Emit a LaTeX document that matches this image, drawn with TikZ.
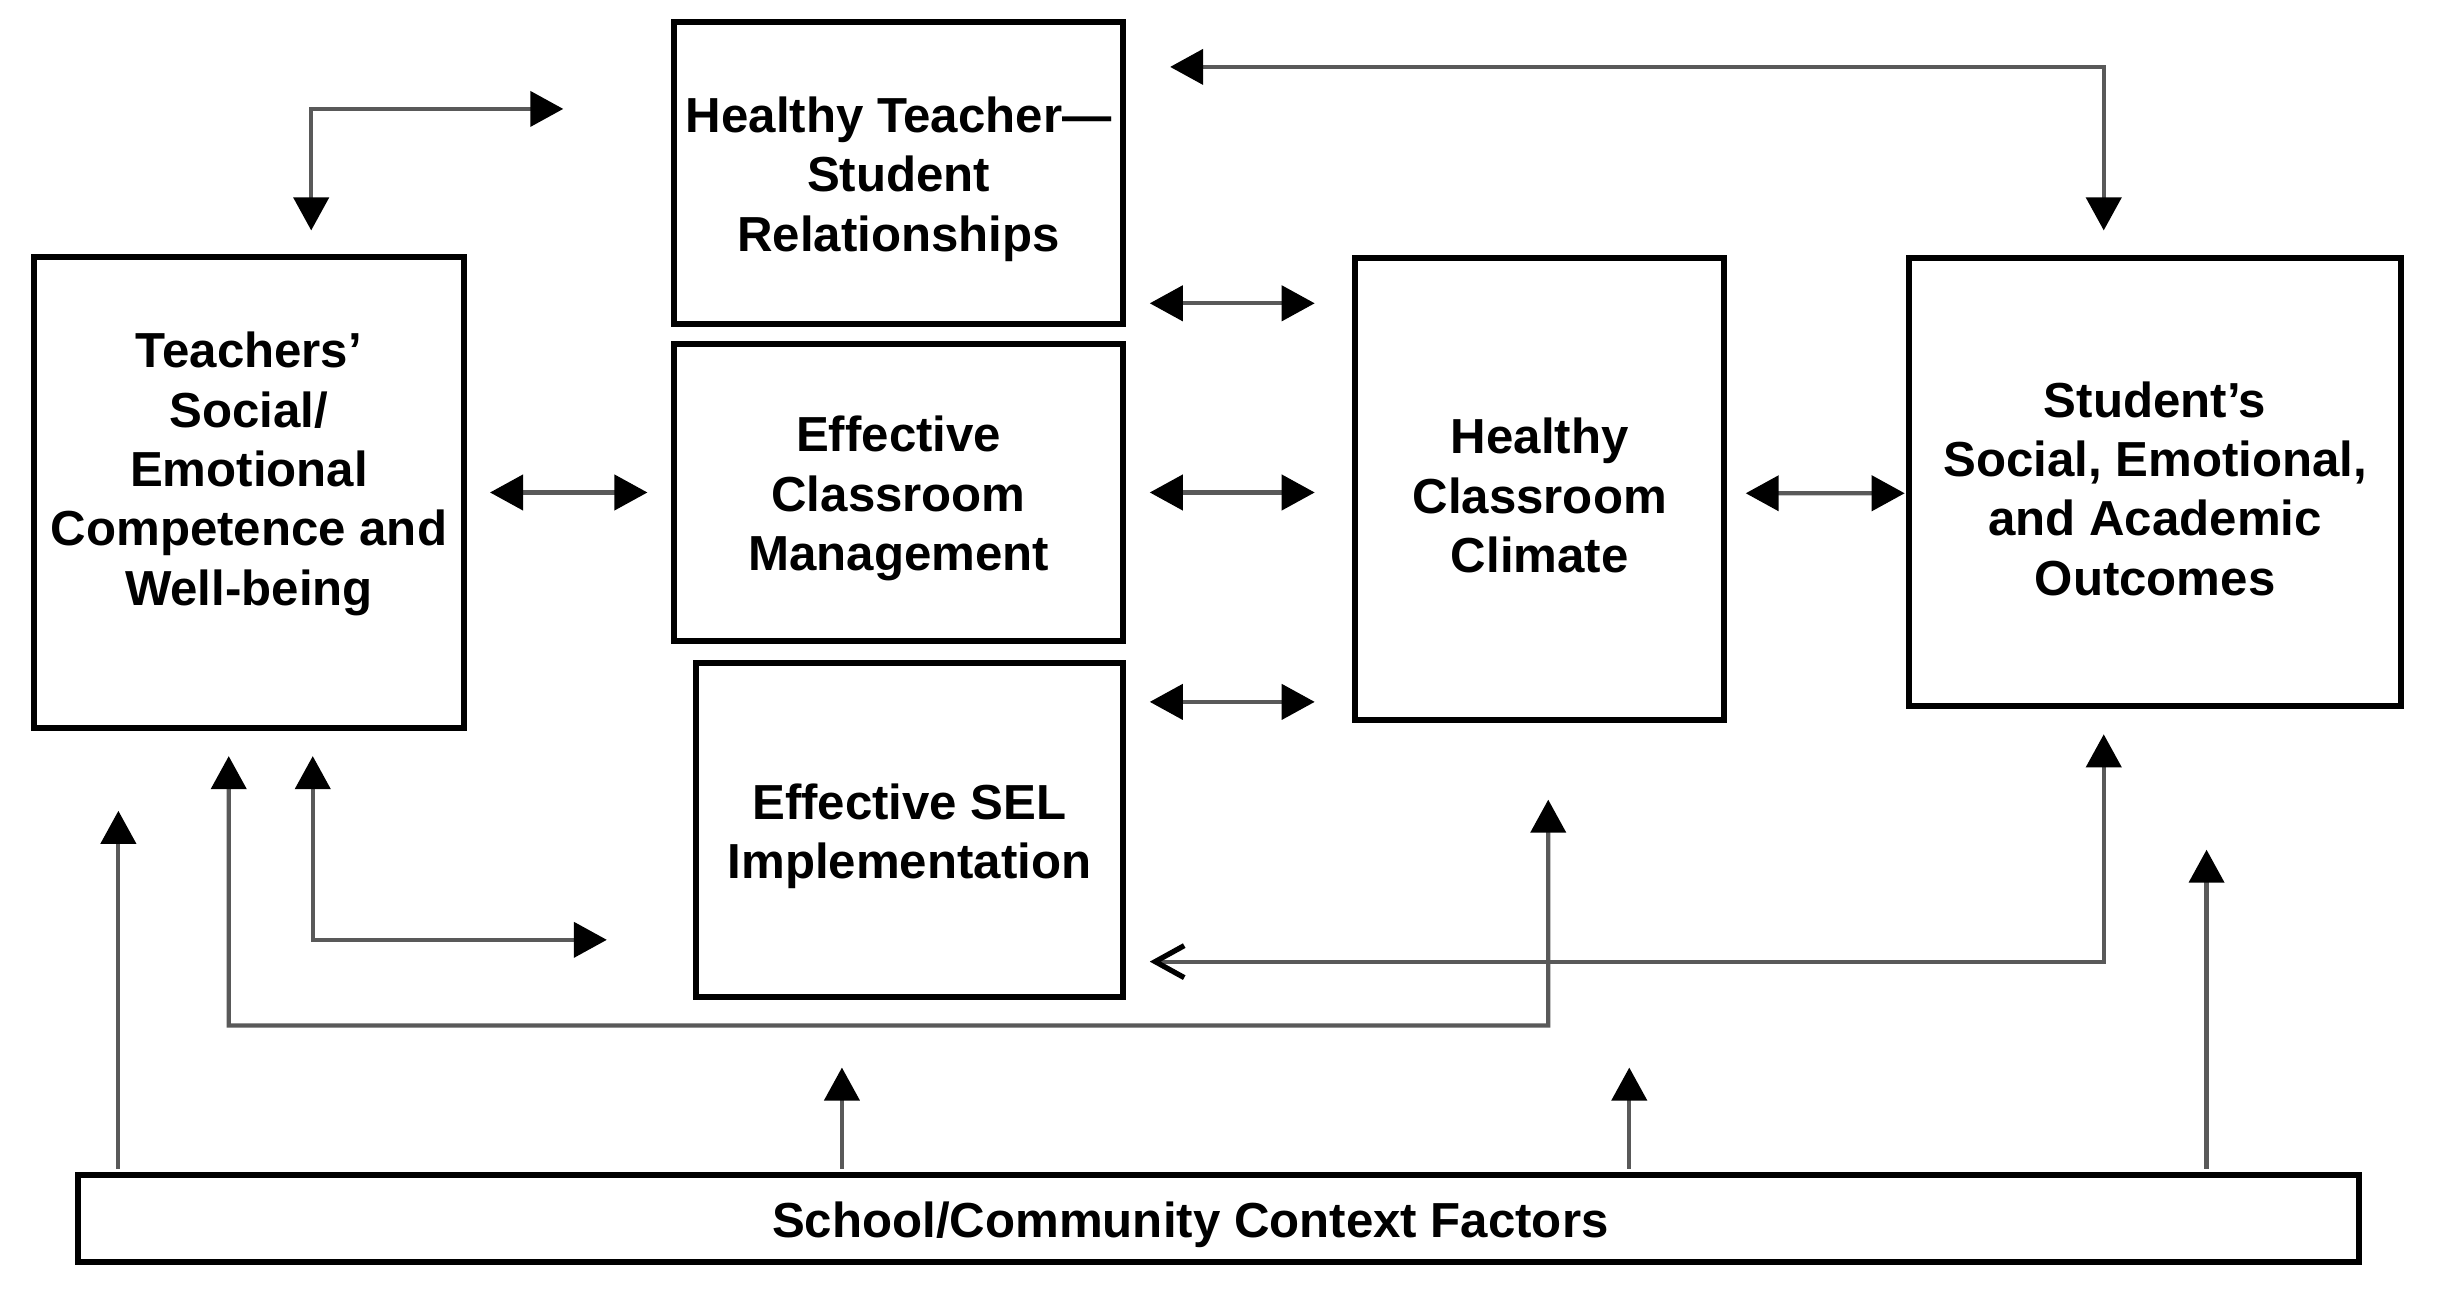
\documentclass[tikz,border=0pt]{standalone}
\usepackage{fontspec}
\setmainfont{Liberation Sans}
\usetikzlibrary{arrows.meta,calc}
\newlength\dpx
\setlength\dpx{0.01556cm}
\tikzset{
  box/.style={draw,line width=1.7pt,inner sep=0pt},
  lbl/.style={inner sep=0pt,align=center,yshift=-4\dpx,
    font=\fontsize{14}{16.9}\selectfont\bfseries},
  boxtext/.style={label={[lbl]center:{#1}}},
  link/.style={draw=black!65,line width=1.2pt},
  >={Triangle[length=3.3mm,width=3.5mm,color=black]},
  barb/.style={arrows={Triangle[length=3.3mm,width=3.5mm,color=black]-Straight Barb[length=2.9mm,width=3.2mm,line width=1.5pt,color=black]}}
}

\begin{document}
\begin{tikzpicture}[x=0.01556cm,y=-0.01556cm]
  \useasboundingbox (0,0) rectangle (1569.4,838.7);

  \node[box,minimum width=276\dpx,minimum height=303\dpx,
    label={[lbl,yshift=16\dpx]center:{Teachers'\\Social/\\Emotional\\Competence and\\Well-being}}] (teach) at (160,316.5) {};
  \node[box,minimum width=289\dpx,minimum height=194\dpx,
    boxtext={Healthy Teacher—\\Student\\Relationships}] (htsr) at (577.5,111) {};
  \node[box,minimum width=289\dpx,minimum height=191\dpx,
    boxtext={Effective\\Classroom\\Management}] (ecm) at (577.5,316.5) {};
  \node[box,minimum width=275\dpx,minimum height=215\dpx,
    boxtext={Effective SEL\\Implementation}] (sel) at (584.5,533.5) {};
  \node[box,minimum width=237\dpx,minimum height=297\dpx,
    boxtext={Healthy\\Classroom\\Climate}] (hcc) at (989.5,314.5) {};
  \node[box,minimum width=316\dpx,minimum height=288\dpx,
    boxtext={Student’s\\Social, Emotional,\\and Academic\\Outcomes}] (sso) at (1385,310) {};
  \node[box,minimum width=1466\dpx,minimum height=56\dpx,
    label={[lbl,xshift=-18\dpx]center:School/Community Context Factors}] (scf) at (783,783) {};

  % free ends
  \coordinate (htsrin) at (362,70);
  \coordinate (ssoin) at (752,43);
  \coordinate (selin) at (390,604);
  \coordinate (hccbase) at (995,659);

  \draw[link,<->] ($(teach.north)+(40,-15)$) |- (htsrin);
  \draw[link,<->] (ssoin) -| ($(sso.north)+(-33,-16)$);
  \draw[link,<->] ($(htsr.south east)+(15,-15)$) -- ++(106,0);
  \draw[link,<->] ($(ecm.east)+(15,0)$) -- ++(106,0);
  \draw[link,<->] ($(sel.north east)+(15,27)$) -- ++(106,0);
  \draw[link,<->] ($(teach.east)+(15,0)$) -- ($(ecm.west)+(-15,0)$);
  \draw[link,<->] ($(hcc.east)+(12,2.5)$) -- ($(sso.west)+(-1,7)$);
  \draw[link,<->] ($(teach.south)+(41,16)$) |- (selin);
  \draw[link,<->] ($(teach.south)+(-13,16)$) |- (hccbase) -- ($(hcc.south)+(5.5,49)$);
  \draw[link,barb] ($(sso.south)+(-33,16)$) |- ($(sel.east)+(15,84.5)$);

  % context factors
  \foreach \dx/\len in {28/230,493/65,999/65,1370/205}
    \draw[link,->] ($(scf.north west)+(\dx,-2)$) -- ++(0,-\len);
\end{tikzpicture}
\end{document}
